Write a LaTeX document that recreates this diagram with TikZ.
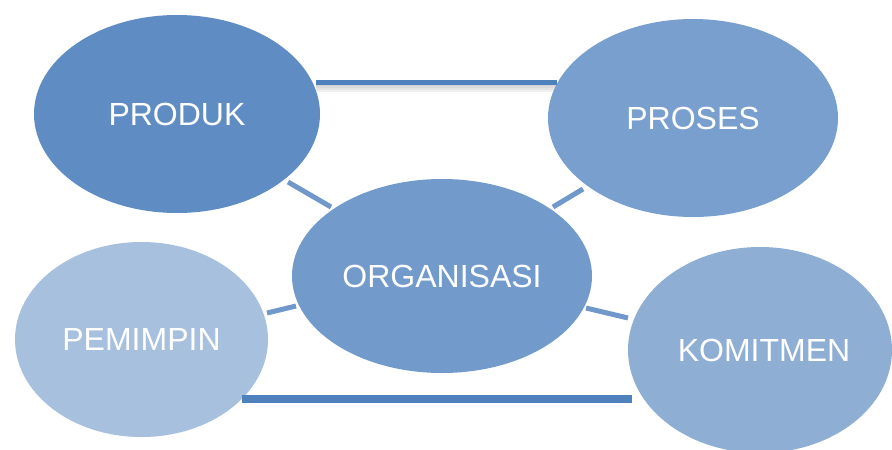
\documentclass[tikz,border=0pt]{standalone}
\usepackage{fontspec}
\setmainfont{Liberation Sans}
\usetikzlibrary{shapes.geometric}
\definecolor{cprod}{HTML}{5F8DC3}
\definecolor{cpros}{HTML}{789FCD}
\definecolor{corg}{HTML}{729BCB}
\definecolor{cpem}{HTML}{A7C0DE}
\definecolor{ckom}{HTML}{8EAED4}
\definecolor{cline}{HTML}{4F81BD}
\definecolor{cshort}{HTML}{7098CB}
\tikzset{
  blob/.style={ellipse, inner sep=0pt, text=white, font=\fontsize{32}{36}\selectfont},
  bigline/.style={draw=cline, line cap=butt},
  shortline/.style={draw=cshort, line width=5pt, line cap=butt},
}
\begin{document}
\begin{tikzpicture}[x=1pt,y=-1pt]
\useasboundingbox (0,0) rectangle (892,450);
\clip (0,0) rectangle (892,450);
\fill[white] (0,0) rectangle (892,450);
% coordinates for connectors
\coordinate (t1) at (316,82.5);
\coordinate (t2) at (557,82.5);
\coordinate (b1) at (242,399);
\coordinate (b2) at (632,399);
% shadow of top line
\foreach \d/\o in {2/0.18,4/0.14,6/0.10,8/0.06}{
  \draw[black, opacity=\o, line width=2pt] ([yshift=-\d pt]t1) -- ([yshift=-\d pt]t2);
}
\node[blob, fill=cprod, minimum width=286pt, minimum height=198pt] (prod) at (177,114) {PRODUK};
\node[blob, fill=cpros, minimum width=290pt, minimum height=198pt] (pros) at (693,118) {PROSES};
\node[blob, fill=cpem, minimum width=253pt, minimum height=195pt] (pem) at (141.5,339.5) {PEMIMPIN};
\node[blob, fill=ckom, minimum width=264pt, minimum height=206pt] (kom) at (760,350) {\hspace*{8pt}KOMITMEN};
\node[blob, fill=corg, minimum width=300pt, minimum height=194pt] (org) at (442,276) {ORGANISASI};
% main connectors
\draw[bigline, line width=5pt] (t1) -- (t2);
\draw[bigline, line width=8pt] (b1) -- (b2);
% short connectors
\coordinate (s1a) at (288,182);
\coordinate (s1b) at (331,207);
\coordinate (s2a) at (583,189);
\coordinate (s2b) at (553,207);
\coordinate (s3a) at (267,313);
\coordinate (s3b) at (296,306);
\coordinate (s4a) at (586,308);
\coordinate (s4b) at (628,318);
\draw[shortline] (s1a) -- (s1b);
\draw[shortline] (s2a) -- (s2b);
\draw[shortline] (s3a) -- (s3b);
\draw[shortline] (s4a) -- (s4b);
\end{tikzpicture}
\end{document}
